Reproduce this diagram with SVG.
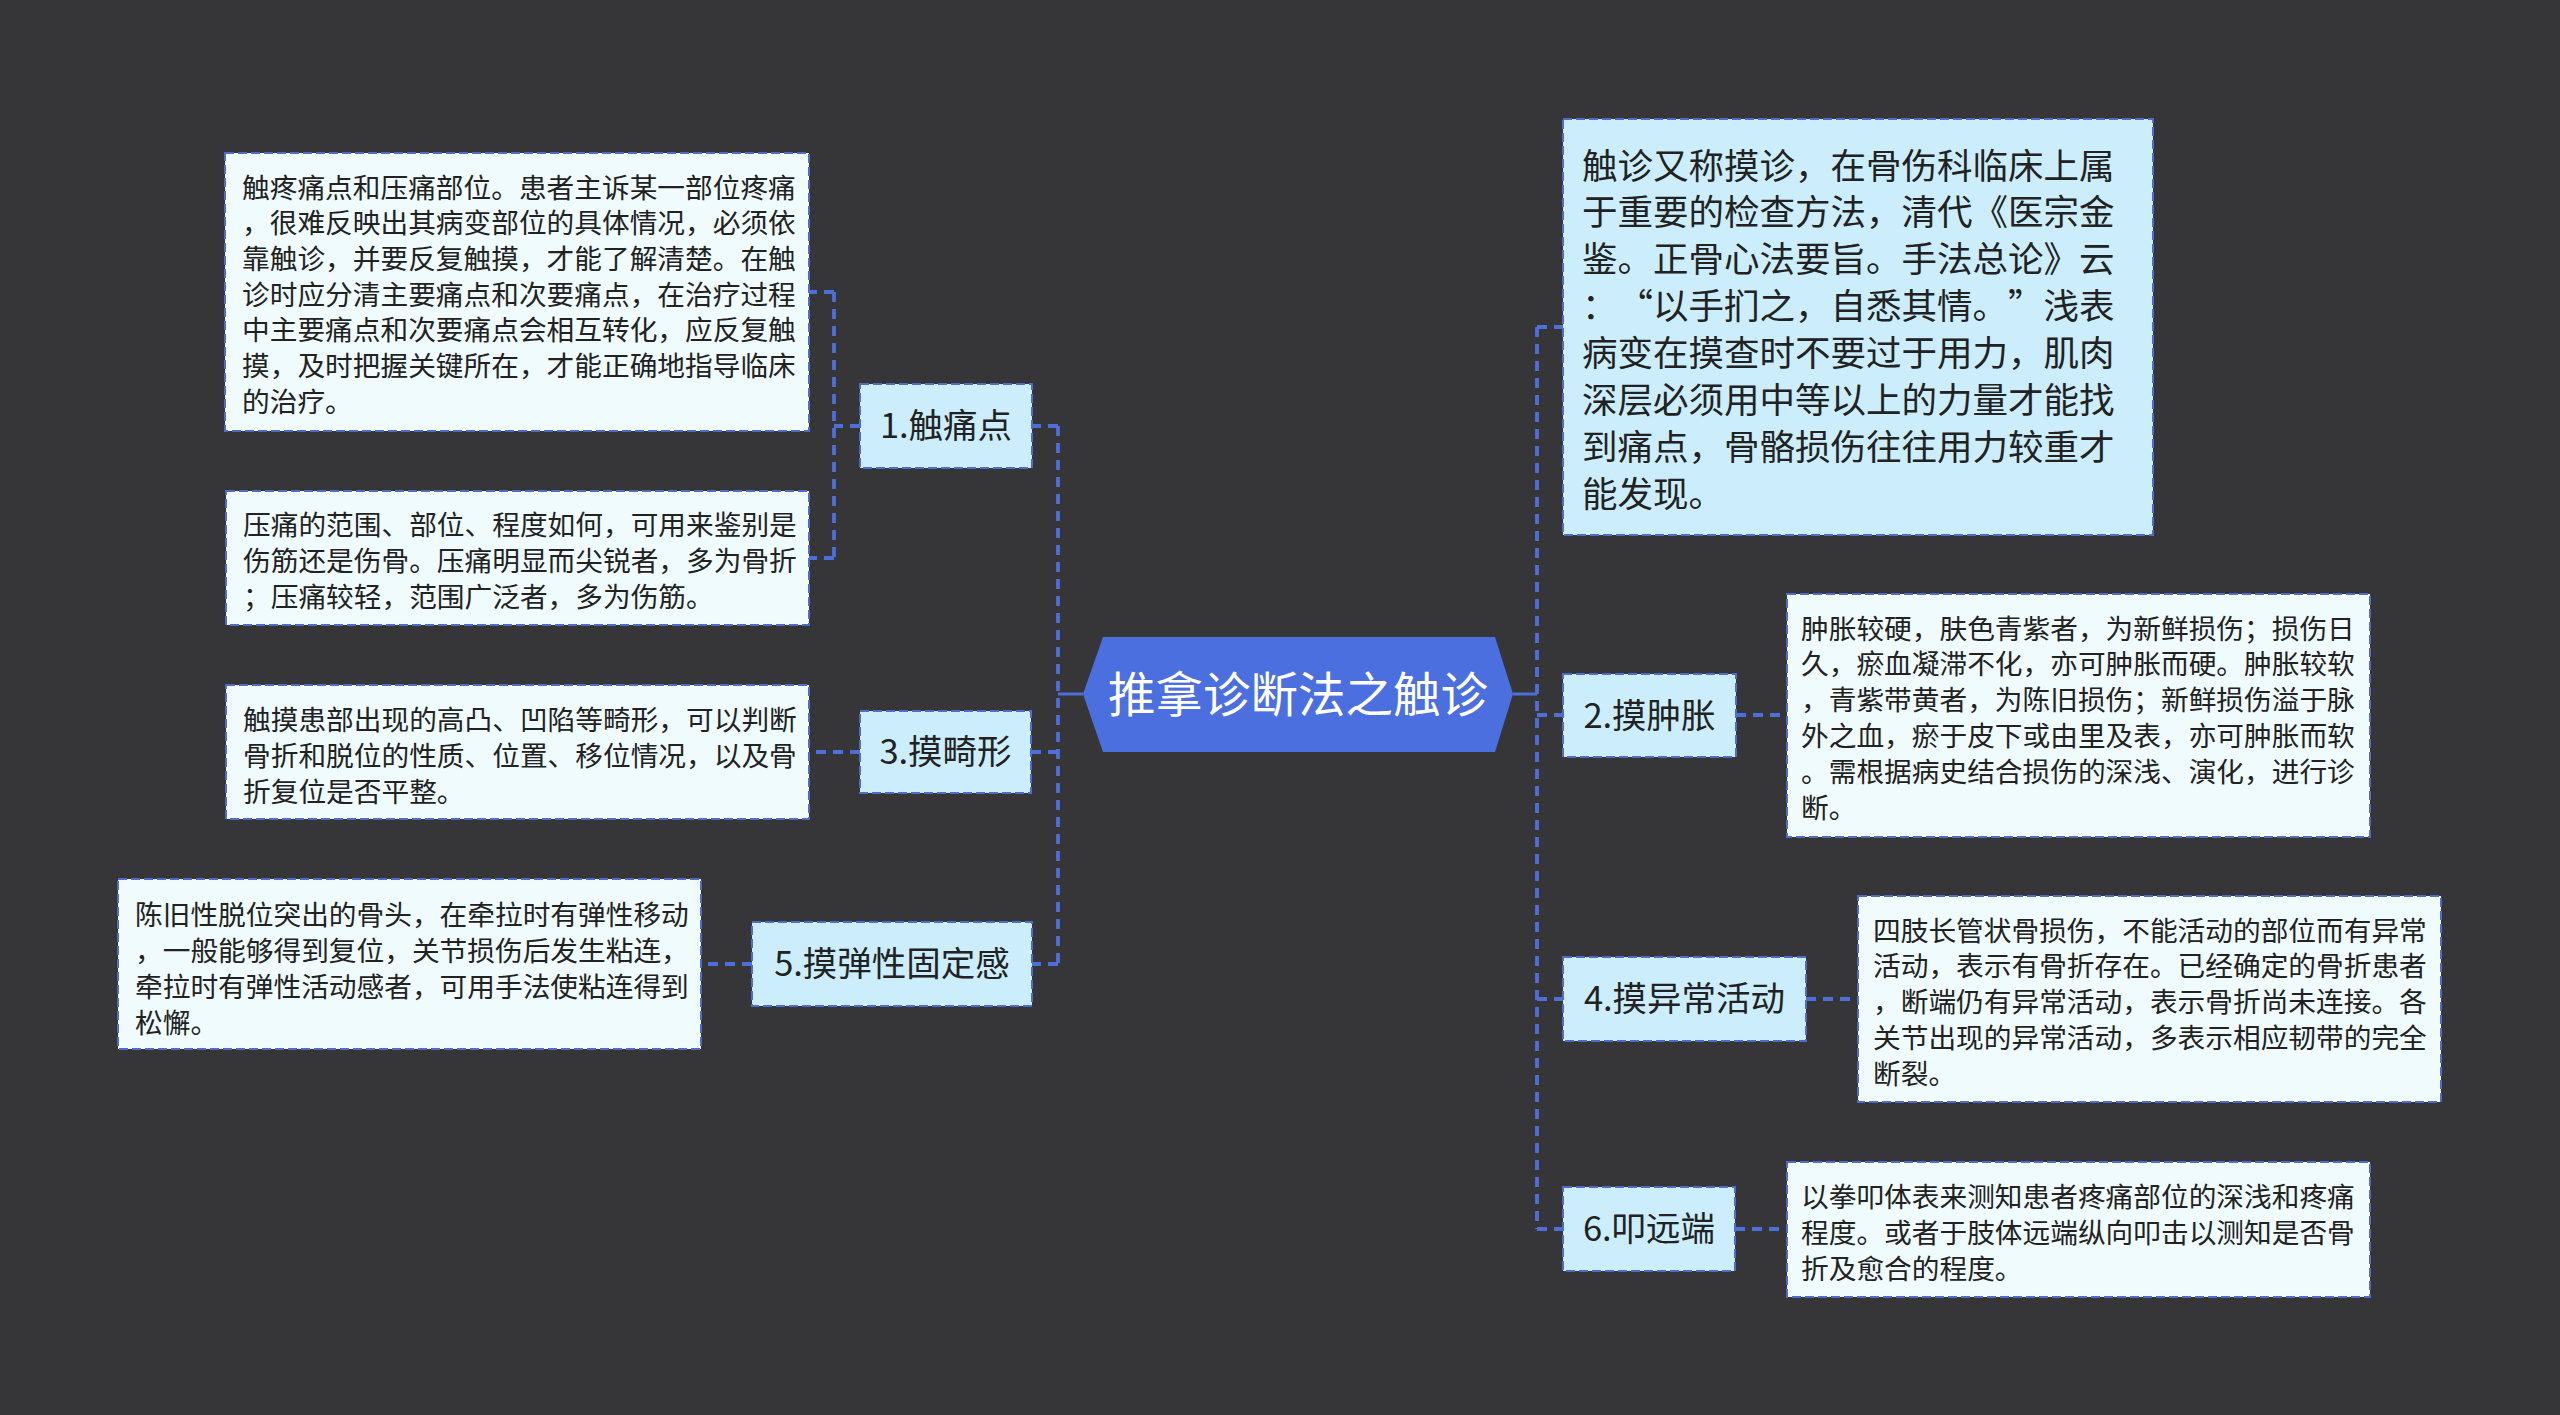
<svg xmlns="http://www.w3.org/2000/svg" width="2560" height="1415" viewBox="0 0 2560 1415">
<style>
.bg{fill:#363538}
.node rect{fill:#cceefc;stroke:#4f6bcb;stroke-width:2;stroke-dasharray:9 4}
.box rect{fill:#effbfd;stroke:#4f6bcb;stroke-width:2;stroke-dasharray:9 4}
.box2 rect{fill:#cceefc;stroke:#4f6bcb;stroke-width:2;stroke-dasharray:9 4}
text{font-family:"Noto Sans CJK SC","Noto Sans",sans-serif;fill:#222}
.nt{font-size:34.5px;text-anchor:middle}
.bt{font-size:27.7px}
.bt2{font-size:35.5px}
.fw{font-feature-settings:"fwid" 1}
.conn path{fill:none;stroke:#4d6fdb;stroke-width:3.8;stroke-dasharray:10 7}
.conn .solid{stroke-dasharray:none;stroke-width:3}
</style>
<rect class="bg" x="0" y="0" width="2560" height="1415"/>
<g id="connectors" class="conn">
<path class="solid" d="M1083 694H1058"/>
<path class="solid" d="M1513 694H1537"/>
<path d="M1058 426V964"/>
<path d="M1058 426H1032"/>
<path d="M1058 752H1031"/>
<path d="M1058 964H1032"/>
<path d="M1537 327V1229"/>
<path d="M1537 327H1563"/>
<path d="M1537 715H1563"/>
<path d="M1537 999H1563"/>
<path d="M1537 1229H1563"/>
<path d="M860 426H834"/>
<path d="M834 292V558"/>
<path d="M834 292H809"/>
<path d="M834 558H809"/>
<path d="M860 752H809"/>
<path d="M752 964H701"/>
<path d="M1736 715H1787"/>
<path d="M1806 999H1858"/>
<path d="M1735 1229H1787"/>
</g>
<g id="root">
<polygon points="1083,694 1103,637 1495,637 1513,694 1495,752 1103,752" fill="#4b6fdf"/>
<text x="1298" y="712" style="font-size:47.5px;fill:#ffffff;text-anchor:middle">推拿诊断法之触诊</text>
</g>
<g id="n1" class="node"><rect x="860" y="384" width="172" height="84"/><text class="nt" x="946" y="438">1.触痛点</text></g>
<g id="n3" class="node"><rect x="860" y="711" width="171" height="82"/><text class="nt" x="945.5" y="764">3.摸畸形</text></g>
<g id="n5" class="node"><rect x="752" y="922" width="280" height="84"/><text class="nt" x="892" y="976">5.摸弹性固定感</text></g>
<g id="n2" class="node"><rect x="1563" y="674" width="173" height="83"/><text class="nt" x="1649.5" y="728">2.摸肿胀</text></g>
<g id="n4" class="node"><rect x="1563" y="957" width="243" height="84"/><text class="nt" x="1684.5" y="1011">4.摸异常活动</text></g>
<g id="n6" class="node"><rect x="1563" y="1187" width="172" height="84"/><text class="nt" x="1649" y="1241">6.叩远端</text></g>
<g id="b1" class="box"><rect x="225" y="153" width="584" height="278"/>
<text class="bt" x="242"><tspan x="242" y="197.5">触疼痛点和压痛部位。患者主诉某一部位疼痛</tspan><tspan x="242" y="233.2">，很难反映出其病变部位的具体情况，必须依</tspan><tspan x="242" y="268.9">靠触诊，并要反复触摸，才能了解清楚。在触</tspan><tspan x="242" y="304.6">诊时应分清主要痛点和次要痛点，在治疗过程</tspan><tspan x="242" y="340.3">中主要痛点和次要痛点会相互转化，应反复触</tspan><tspan x="242" y="376">摸，及时把握关键所在，才能正确地指导临床</tspan><tspan x="242" y="411.7">的治疗。</tspan></text></g>
<g id="b2" class="box"><rect x="226" y="491" width="583" height="134"/>
<text class="bt"><tspan x="243" y="534.5">压痛的范围、部位、程度如何，可用来鉴别是</tspan><tspan x="243" y="570.5">伤筋还是伤骨。压痛明显而尖锐者，多为骨折</tspan><tspan x="243" y="606.5">；压痛较轻，范围广泛者，多为伤筋。</tspan></text></g>
<g id="b3" class="box"><rect x="226" y="685" width="583" height="134"/>
<text class="bt"><tspan x="243" y="729.5">触摸患部出现的高凸、凹陷等畸形，可以判断</tspan><tspan x="243" y="765.5">骨折和脱位的性质、位置、移位情况，以及骨</tspan><tspan x="243" y="801.5">折复位是否平整。</tspan></text></g>
<g id="b5" class="box"><rect x="118" y="879" width="583" height="170"/>
<text class="bt"><tspan x="135" y="924.5">陈旧性脱位突出的骨头，在牵拉时有弹性移动</tspan><tspan x="135" y="960.5">，一般能够得到复位，关节损伤后发生粘连，</tspan><tspan x="135" y="996.5">牵拉时有弹性活动感者，可用手法使粘连得到</tspan><tspan x="135" y="1032.5">松懈。</tspan></text></g>
<g id="r1" class="box2"><rect x="1563" y="119" width="590" height="416"/>
<text class="bt2"><tspan x="1582" y="178.5">触诊又称摸诊，在骨伤科临床上属</tspan><tspan x="1582" y="225.4">于重要的检查方法，清代《医宗金</tspan><tspan x="1582" y="272.3">鉴。正骨心法要旨。手法总论》云</tspan><tspan x="1582" y="319.2">：</tspan><tspan x="1617.5" y="319.2" class="fw">“</tspan><tspan x="1653" y="319.2">以手扪之，自悉其情。</tspan><tspan x="2008" y="319.2" class="fw">”</tspan><tspan x="2043.5" y="319.2">浅表</tspan><tspan x="1582" y="366.1">病变在摸查时不要过于用力，肌肉</tspan><tspan x="1582" y="413">深层必须用中等以上的力量才能找</tspan><tspan x="1582" y="459.9">到痛点，骨骼损伤往往用力较重才</tspan><tspan x="1582" y="506.8">能发现。</tspan></text></g>
<g id="r2" class="box"><rect x="1787" y="594" width="583" height="243"/>
<text class="bt"><tspan x="1801" y="638.5">肿胀较硬，肤色青紫者，为新鲜损伤；损伤日</tspan><tspan x="1801" y="674.3">久，瘀血凝滞不化，亦可肿胀而硬。肿胀较软</tspan><tspan x="1801" y="710.1">，青紫带黄者，为陈旧损伤；新鲜损伤溢于脉</tspan><tspan x="1801" y="745.9">外之血，瘀于皮下或由里及表，亦可肿胀而软</tspan><tspan x="1801" y="781.7">。需根据病史结合损伤的深浅、演化，进行诊</tspan><tspan x="1801" y="817.5">断。</tspan></text></g>
<g id="r4" class="box"><rect x="1858" y="896" width="583" height="206"/>
<text class="bt"><tspan x="1873" y="940.5">四肢长管状骨损伤，不能活动的部位而有异常</tspan><tspan x="1873" y="976.3">活动，表示有骨折存在。已经确定的骨折患者</tspan><tspan x="1873" y="1012.1">，断端仍有异常活动，表示骨折尚未连接。各</tspan><tspan x="1873" y="1047.9">关节出现的异常活动，多表示相应韧带的完全</tspan><tspan x="1873" y="1083.7">断裂。</tspan></text></g>
<g id="r6" class="box"><rect x="1787" y="1162" width="583" height="135"/>
<text class="bt"><tspan x="1801" y="1206.5">以拳叩体表来测知患者疼痛部位的深浅和疼痛</tspan><tspan x="1801" y="1242.5">程度。或者于肢体远端纵向叩击以测知是否骨</tspan><tspan x="1801" y="1278.5">折及愈合的程度。</tspan></text></g>
</svg>
